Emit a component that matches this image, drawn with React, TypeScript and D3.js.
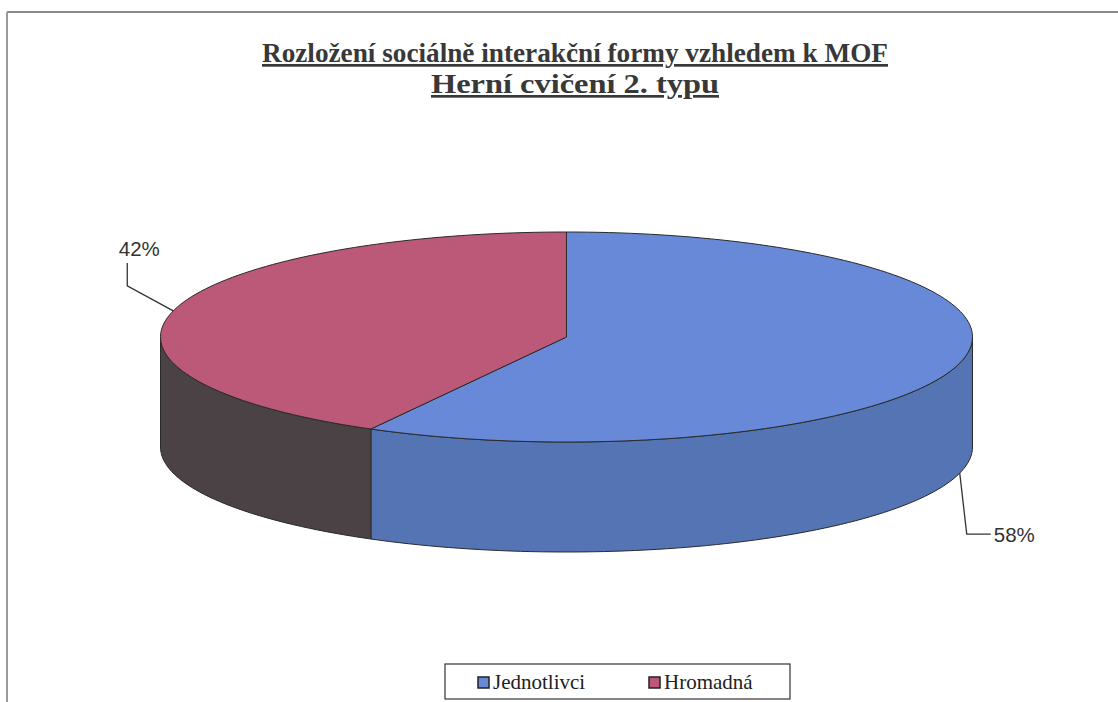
import React from "react";
import * as d3 from "d3";

// Chart data
const categories: string[] = ["Jednotlivci", "Hromadná"];
const values: number[] = [58, 42];
const titleLines: string[] = [
  "Rozložení sociálně interakční formy vzhledem k MOF",
  "Herní cvičení 2. typu",
];

const W = 1118;
const H = 702;

// Pie geometry (tilted disc)
const cx = 566.5;
const cy = 337;
const rx = 406;
const ry = 105;
const depth = 110;

const topColors = ["#6888d8", "#bc5878"];
const sideColors = ["#5474b4", "#4a4244"];

const serif = "'Liberation Serif', 'DejaVu Serif Condensed', 'DejaVu Serif', serif";
const sans = "'Liberation Sans', Arial, 'DejaVu Sans', sans-serif";

// point on the rim ellipse for a d3.pie angle (clockwise from 12 o'clock)
const rim = (a: number, dy = 0): [number, number] => [
  cx + rx * Math.sin(a),
  cy - ry * Math.cos(a) + dy,
];

const arcPoints = (a0: number, a1: number, dy = 0): [number, number][] => {
  const n = Math.max(2, Math.ceil((Math.abs(a1 - a0) / Math.PI) * 120));
  return d3.range(n + 1).map((i) => rim(a0 + ((a1 - a0) * i) / n, dy));
};

const line = d3.line<[number, number]>();

export default function App() {
  const pie = d3
    .pie<number>()
    .sort(null)
    .startAngle(0)
    .endAngle(2 * Math.PI)
    .value((d) => d);
  const arcs = pie(values);

  // visible front wall spans angles PI/2 .. 3PI/2
  const sides = arcs
    .map((a, i) => {
      const s = Math.max(a.startAngle, Math.PI / 2);
      const e = Math.min(a.endAngle, (3 * Math.PI) / 2);
      if (e <= s) return null;
      const pts = [...arcPoints(s, e), ...arcPoints(e, s, depth)];
      return { i, d: line(pts) + "Z" };
    })
    .filter(Boolean) as { i: number; d: string }[];

  const tops = arcs.map((a, i) => {
    const pts: [number, number][] = [[cx, cy], ...arcPoints(a.startAngle, a.endAngle)];
    return { i, d: line(pts) + "Z" };
  });

  // leader lines & labels
  const labels = arcs.map((a, i) => {
    const mid = (a.startAngle + a.endAngle) / 2;
    const front = Math.cos(mid) < 0;
    const [ax, ay] = rim(mid, front ? depth : 0);
    const text = `${Math.round(a.value)}%`;
    if (ax > cx) {
      const ex = ax + 7;
      const ey = ay + 61;
      return {
        path: line([[ax, ay], [ex, ey], [ex + 24, ey]]),
        x: ex + 27,
        y: ey + 8,
        anchor: "start",
        text,
      };
    }
    const ex = ax - 46;
    const ey = ay - 25;
    return {
      path: line([[ax, ay], [ex, ey], [ex, ey - 23]]),
      x: ex + 12,
      y: ey - 30,
      anchor: "middle",
      text,
    };
  });

  const legendX = 445;
  const legendY = 664;
  const itemX = [478, 649];

  return (
    <svg
      width={W}
      height={H}
      style={{ position: "absolute", left: 0, top: 0, background: "#fff" }}
    >
      {/* chart frame */}
      <line x1={7} y1={12} x2={W} y2={12} stroke="#8a8a8a" strokeWidth={2} />
      <line x1={7} y1={12} x2={7} y2={H} stroke="#9a9a9a" strokeWidth={2} />

      {/* title */}
      {titleLines.map((t, i) => (
        <text
          key={i}
          x={575}
          y={62 + i * 31}
          textAnchor="middle"
          style={{ fontFamily: serif }}
          fontWeight="bold"
          fontSize={27}
          fill="#383838"
          textDecoration="underline"
          textLength={i === 0 ? 626 : 288}
          lengthAdjust="spacingAndGlyphs"
        >
          {t}
        </text>
      ))}

      {/* front wall */}
      {sides.map((s) => (
        <path
          key={"s" + s.i}
          d={s.d}
          fill={sideColors[s.i]}
          stroke="#2a2a2a"
          strokeWidth={1}
          strokeLinejoin="round"
        />
      ))}

      {/* top face */}
      {tops.map((t) => (
        <path
          key={"t" + t.i}
          d={t.d}
          fill={topColors[t.i]}
          stroke="#2a2a2a"
          strokeWidth={1}
          strokeLinejoin="round"
        />
      ))}

      {/* data labels */}
      {labels.map((l, i) => (
        <g key={"l" + i}>
          <path d={l.path!} fill="none" stroke="#333" strokeWidth={1.3} />
          <text
            x={l.x}
            y={l.y}
            textAnchor={l.anchor as any}
            style={{ fontFamily: sans }}
            fontSize={20.5}
            fill="#333"
          >
            {l.text}
          </text>
        </g>
      ))}

      {/* legend */}
      <rect
        x={legendX}
        y={legendY}
        width={345}
        height={35}
        fill="#fff"
        stroke="#333"
        strokeWidth={1.2}
      />
      {categories.map((c, i) => (
        <g key={"lg" + i}>
          <rect
            x={itemX[i]}
            y={legendY + 13}
            width={11}
            height={11}
            fill={topColors[i]}
            stroke="#222"
            strokeWidth={1.5}
          />
          <text
            x={itemX[i] + 15}
            y={legendY + 25}
            style={{ fontFamily: serif }}
            fontSize={21}
            fill="#222"
          >
            {c}
          </text>
        </g>
      ))}
    </svg>
  );
}
